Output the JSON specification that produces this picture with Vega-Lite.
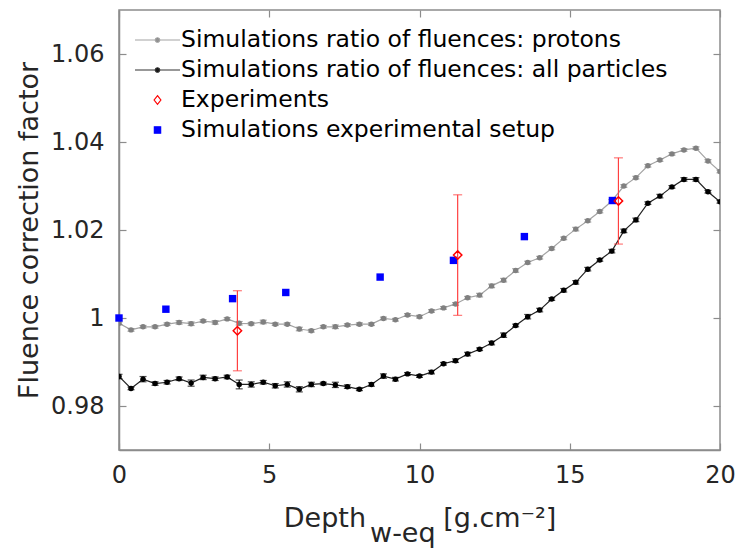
{
  "$schema": "https://vega.github.io/schema/vega-lite/v6.json",
  "width": 601,
  "height": 440,
  "autosize": {"type": "none"},
  "padding": {"left": 119, "top": 10, "right": 18, "bottom": 98},
  "background": "white",
  "config": {
    "font": "DejaVu Sans",
    "view": {"stroke": "#8c8c8c", "strokeWidth": 1.5},
    "axis": {
      "domainColor": "#8c8c8c", "domainWidth": 1.5,
      "tickColor": "#8c8c8c", "tickSize": -7, "tickWidth": 1.2,
      "grid": false, "labelFlush": false,
      "labelColor": "#262626", "titleColor": "#262626",
      "labelFont": "DejaVu Sans", "titleFont": "DejaVu Sans",
      "labelFontSize": 24, "titleFontSize": 27, "titleFontWeight": "normal"
    },
    "legend": {
      "orient": "top-left", "offset": 15, "padding": 0,
      "labelFont": "DejaVu Sans", "labelFontSize": 23.5, "labelColor": "#000000",
      "labelLimit": 700, "symbolSize": 2025, "symbolStrokeWidth": 1.2,
      "clipHeight": 30, "rowPadding": 0, "labelOffset": 0
    }
  },
  "datasets": {
    "protons": [
      {"depth": 0.0, "value": 0.9988, "err": 0.0003},
      {"depth": 0.4, "value": 0.9973, "err": 0.0003},
      {"depth": 0.8, "value": 0.9980, "err": 0.0003},
      {"depth": 1.2, "value": 0.9980, "err": 0.0003},
      {"depth": 1.6, "value": 0.9986, "err": 0.0003},
      {"depth": 2.0, "value": 0.9990, "err": 0.0004},
      {"depth": 2.4, "value": 0.9987, "err": 0.0004},
      {"depth": 2.8, "value": 0.9993, "err": 0.0003},
      {"depth": 3.2, "value": 0.9990, "err": 0.0004},
      {"depth": 3.6, "value": 0.9998, "err": 0.0003},
      {"depth": 4.0, "value": 0.9988, "err": 0.0004},
      {"depth": 4.4, "value": 0.9987, "err": 0.0003},
      {"depth": 4.8, "value": 0.9991, "err": 0.0004},
      {"depth": 5.2, "value": 0.9986, "err": 0.0003},
      {"depth": 5.6, "value": 0.9986, "err": 0.0003},
      {"depth": 6.0, "value": 0.9975, "err": 0.0004},
      {"depth": 6.4, "value": 0.9971, "err": 0.0003},
      {"depth": 6.8, "value": 0.9980, "err": 0.0003},
      {"depth": 7.2, "value": 0.9980, "err": 0.0004},
      {"depth": 7.6, "value": 0.9984, "err": 0.0003},
      {"depth": 8.0, "value": 0.9986, "err": 0.0003},
      {"depth": 8.4, "value": 0.9986, "err": 0.0003},
      {"depth": 8.8, "value": 0.9999, "err": 0.0003},
      {"depth": 9.2, "value": 0.9996, "err": 0.0003},
      {"depth": 9.6, "value": 1.0007, "err": 0.0003},
      {"depth": 10.0, "value": 1.0003, "err": 0.0003},
      {"depth": 10.4, "value": 1.0016, "err": 0.0003},
      {"depth": 10.8, "value": 1.0023, "err": 0.0003},
      {"depth": 11.2, "value": 1.0032, "err": 0.0003},
      {"depth": 11.6, "value": 1.0046, "err": 0.0003},
      {"depth": 12.0, "value": 1.0052, "err": 0.0004},
      {"depth": 12.4, "value": 1.0073, "err": 0.0004},
      {"depth": 12.8, "value": 1.0086, "err": 0.0004},
      {"depth": 13.2, "value": 1.0108, "err": 0.0004},
      {"depth": 13.6, "value": 1.0126, "err": 0.0003},
      {"depth": 14.0, "value": 1.0137, "err": 0.0003},
      {"depth": 14.4, "value": 1.0158, "err": 0.0003},
      {"depth": 14.8, "value": 1.0181, "err": 0.0003},
      {"depth": 15.2, "value": 1.0202, "err": 0.0004},
      {"depth": 15.6, "value": 1.0221, "err": 0.0003},
      {"depth": 16.0, "value": 1.0242, "err": 0.0003},
      {"depth": 16.4, "value": 1.0266, "err": 0.0003},
      {"depth": 16.8, "value": 1.0300, "err": 0.0003},
      {"depth": 17.2, "value": 1.0319, "err": 0.0003},
      {"depth": 17.6, "value": 1.0346, "err": 0.0003},
      {"depth": 18.0, "value": 1.0359, "err": 0.0003},
      {"depth": 18.4, "value": 1.0373, "err": 0.0003},
      {"depth": 18.8, "value": 1.0382, "err": 0.0003},
      {"depth": 19.2, "value": 1.0386, "err": 0.0003},
      {"depth": 19.6, "value": 1.0357, "err": 0.0003},
      {"depth": 20.0, "value": 1.0333, "err": 0.0003}
    ],
    "allparticles": [
      {"depth": 0.0, "value": 0.9867, "err": 0.0005},
      {"depth": 0.4, "value": 0.9840, "err": 0.0003},
      {"depth": 0.8, "value": 0.9861, "err": 0.0006},
      {"depth": 1.2, "value": 0.9851, "err": 0.0004},
      {"depth": 1.6, "value": 0.9854, "err": 0.0004},
      {"depth": 2.0, "value": 0.9862, "err": 0.0004},
      {"depth": 2.4, "value": 0.9852, "err": 0.0007},
      {"depth": 2.8, "value": 0.9865, "err": 0.0005},
      {"depth": 3.2, "value": 0.9862, "err": 0.0004},
      {"depth": 3.6, "value": 0.9866, "err": 0.0004},
      {"depth": 4.0, "value": 0.9849, "err": 0.0010},
      {"depth": 4.4, "value": 0.9849, "err": 0.0006},
      {"depth": 4.8, "value": 0.9854, "err": 0.0004},
      {"depth": 5.2, "value": 0.9846, "err": 0.0005},
      {"depth": 5.6, "value": 0.9849, "err": 0.0006},
      {"depth": 6.0, "value": 0.9838, "err": 0.0006},
      {"depth": 6.4, "value": 0.9849, "err": 0.0005},
      {"depth": 6.8, "value": 0.9851, "err": 0.0003},
      {"depth": 7.2, "value": 0.9848, "err": 0.0006},
      {"depth": 7.6, "value": 0.9844, "err": 0.0004},
      {"depth": 8.0, "value": 0.9838, "err": 0.0003},
      {"depth": 8.4, "value": 0.9849, "err": 0.0004},
      {"depth": 8.8, "value": 0.9868, "err": 0.0005},
      {"depth": 9.2, "value": 0.9861, "err": 0.0004},
      {"depth": 9.6, "value": 0.9873, "err": 0.0003},
      {"depth": 10.0, "value": 0.9868, "err": 0.0003},
      {"depth": 10.4, "value": 0.9877, "err": 0.0004},
      {"depth": 10.8, "value": 0.9896, "err": 0.0003},
      {"depth": 11.2, "value": 0.9903, "err": 0.0004},
      {"depth": 11.6, "value": 0.9918, "err": 0.0004},
      {"depth": 12.0, "value": 0.9929, "err": 0.0003},
      {"depth": 12.4, "value": 0.9943, "err": 0.0004},
      {"depth": 12.8, "value": 0.9961, "err": 0.0005},
      {"depth": 13.2, "value": 0.9983, "err": 0.0003},
      {"depth": 13.6, "value": 1.0003, "err": 0.0005},
      {"depth": 14.0, "value": 1.0018, "err": 0.0004},
      {"depth": 14.4, "value": 1.0043, "err": 0.0003},
      {"depth": 14.8, "value": 1.0063, "err": 0.0004},
      {"depth": 15.2, "value": 1.0081, "err": 0.0004},
      {"depth": 15.6, "value": 1.0111, "err": 0.0004},
      {"depth": 16.0, "value": 1.0132, "err": 0.0003},
      {"depth": 16.4, "value": 1.0152, "err": 0.0004},
      {"depth": 16.8, "value": 1.0198, "err": 0.0004},
      {"depth": 17.2, "value": 1.0223, "err": 0.0004},
      {"depth": 17.6, "value": 1.0261, "err": 0.0003},
      {"depth": 18.0, "value": 1.0277, "err": 0.0004},
      {"depth": 18.4, "value": 1.0298, "err": 0.0003},
      {"depth": 18.8, "value": 1.0315, "err": 0.0004},
      {"depth": 19.2, "value": 1.0315, "err": 0.0004},
      {"depth": 19.6, "value": 1.0287, "err": 0.0003},
      {"depth": 20.0, "value": 1.0264, "err": 0.0003}
    ],
    "experiments": [
      {"depth": 3.94, "value": 0.9971, "err": 0.0091},
      {"depth": 11.27, "value": 1.0143, "err": 0.0137},
      {"depth": 16.62, "value": 1.0266, "err": 0.0098}
    ],
    "setup": [
      {"depth": 0.0, "value": 1.0000},
      {"depth": 1.56, "value": 1.0020},
      {"depth": 3.78, "value": 1.0044},
      {"depth": 5.55, "value": 1.0058},
      {"depth": 8.69, "value": 1.0093},
      {"depth": 11.13, "value": 1.0131},
      {"depth": 13.49, "value": 1.0185},
      {"depth": 16.42, "value": 1.0267}
    ],
    "legend": [
      {"series": "Simulations ratio of fluences: protons"},
      {"series": "Simulations ratio of fluences: all particles"},
      {"series": "Experiments"},
      {"series": "Simulations experimental setup"}
    ]
  },
  "resolve": {"axis": {"x": "independent", "y": "independent"}},
  "layer": [
    {
      "data": {"name": "protons"},
      "mark": {"type": "line", "color": "#a3a3a3", "strokeWidth": 1.2, "clip": true},
      "encoding": {
        "x": {"field": "depth", "type": "quantitative", "scale": {"domain": [0, 20], "nice": false, "zero": false},
          "axis": {"orient": "bottom", "values": [0, 5, 10, 15, 20], "labelPadding": 20, "titlePadding": 18, "titleLineHeight": 15,
            "title": ["Depth\u00a0\u00a0\u00a0\u00a0\u00a0\u00a0\u00a0\u00a0\u00a0[g.cm\u207b\u00b2]", "\u200b\u00a0\u00a0\u00a0\u00a0\u00a0\u00a0\u00a0\u00a0\u00a0\u00a0w-eq\u00a0\u00a0\u00a0\u00a0\u00a0\u00a0\u00a0\u00a0\u00a0\u00a0\u00a0\u00a0\u00a0\u00a0\u200b"]}},
        "y": {"field": "value", "type": "quantitative", "scale": {"domain": [0.97, 1.07], "nice": false, "zero": false},
          "axis": {"orient": "left", "values": [0.98, 1, 1.02, 1.04, 1.06], "format": ".2~f", "labelPadding": 22, "titlePadding": 7, "title": "Fluence correction factor"}}
      }
    },
    {
      "data": {"name": "allparticles"},
      "mark": {"type": "line", "color": "#222222", "strokeWidth": 1.2, "clip": true},
      "encoding": {
        "x": {"field": "depth", "type": "quantitative", "scale": {"domain": [0, 20], "nice": false, "zero": false},
          "axis": {"orient": "top", "values": [0, 5, 10, 15, 20], "labels": false, "domain": false, "title": null}},
        "y": {"field": "value", "type": "quantitative", "scale": {"domain": [0.97, 1.07], "nice": false, "zero": false},
          "axis": {"orient": "right", "values": [0.98, 1, 1.02, 1.04, 1.06], "labels": false, "domain": false, "title": null}}
      }
    },
    {
      "data": {"name": "protons"},
      "mark": {"type": "errorbar", "color": "#808080", "thickness": 1.2, "ticks": {"size": 7, "thickness": 1.2}, "clip": true},
      "encoding": {
        "x": {"field": "depth", "type": "quantitative", "axis": null},
        "y": {"field": "value", "type": "quantitative", "axis": null},
        "yError": {"field": "err"}
      }
    },
    {
      "data": {"name": "protons"},
      "mark": {"type": "point", "shape": "circle", "filled": true, "color": "#808080", "size": 30, "opacity": 1, "clip": true},
      "encoding": {
        "x": {"field": "depth", "type": "quantitative", "axis": null},
        "y": {"field": "value", "type": "quantitative", "axis": null}
      }
    },
    {
      "data": {"name": "allparticles"},
      "mark": {"type": "errorbar", "color": "#000000", "thickness": 1.2, "ticks": {"size": 7, "thickness": 1.2}, "clip": true},
      "encoding": {
        "x": {"field": "depth", "type": "quantitative", "axis": null},
        "y": {"field": "value", "type": "quantitative", "axis": null},
        "yError": {"field": "err"}
      }
    },
    {
      "data": {"name": "allparticles"},
      "mark": {"type": "point", "shape": "circle", "filled": true, "color": "#000000", "size": 30, "opacity": 1, "clip": true},
      "encoding": {
        "x": {"field": "depth", "type": "quantitative", "axis": null},
        "y": {"field": "value", "type": "quantitative", "axis": null}
      }
    },
    {
      "data": {"name": "setup"},
      "mark": {"type": "point", "shape": "square", "filled": true, "color": "#0000ff", "size": 55, "opacity": 1},
      "encoding": {
        "x": {"field": "depth", "type": "quantitative", "axis": null},
        "y": {"field": "value", "type": "quantitative", "axis": null}
      }
    },
    {
      "data": {"name": "experiments"},
      "mark": {"type": "errorbar", "color": "#ff4040", "thickness": 1.2, "ticks": {"size": 9, "thickness": 1.2}},
      "encoding": {
        "x": {"field": "depth", "type": "quantitative", "axis": null},
        "y": {"field": "value", "type": "quantitative", "axis": null},
        "yError": {"field": "err"}
      }
    },
    {
      "data": {"name": "experiments"},
      "mark": {"type": "point", "shape": "diamond", "filled": false, "color": "#ff0000", "strokeWidth": 1.5, "size": 70, "opacity": 1},
      "encoding": {
        "x": {"field": "depth", "type": "quantitative", "axis": null},
        "y": {"field": "value", "type": "quantitative", "axis": null}
      }
    },
    {
      "data": {"name": "legend"},
      "transform": [{"filter": "false"}],
      "mark": {"type": "point", "filled": true, "strokeWidth": 1.2, "opacity": 1},
      "encoding": {
        "shape": {"field": "series", "type": "nominal",
          "scale": {"domain": ["Simulations ratio of fluences: protons", "Simulations ratio of fluences: all particles", "Experiments", "Simulations experimental setup"],
            "range": ["M-1,0H1M-0.1,0A0.1,0.1 0 1,0 0.1,0A0.1,0.1 0 1,0 -0.1,0Z", "M-1,0H1M-0.1,0A0.1,0.1 0 1,0 0.1,0A0.1,0.1 0 1,0 -0.1,0Z", "M0,-0.19L0.15,0L0,0.19L-0.15,0Z", "M-0.14,-0.14H0.14V0.14H-0.14Z"]},
          "legend": {"title": null}},
        "fill": {"field": "series", "type": "nominal",
          "scale": {"domain": ["Simulations ratio of fluences: protons", "Simulations ratio of fluences: all particles", "Experiments", "Simulations experimental setup"],
            "range": ["#808080", "#000000", "transparent", "#0000ff"]},
          "legend": {"title": null}},
        "stroke": {"field": "series", "type": "nominal",
          "scale": {"domain": ["Simulations ratio of fluences: protons", "Simulations ratio of fluences: all particles", "Experiments", "Simulations experimental setup"],
            "range": ["#a3a3a3", "#333333", "#ff0000", "#0000ff"]},
          "legend": {"title": null}}
      }
    }
  ]
}
